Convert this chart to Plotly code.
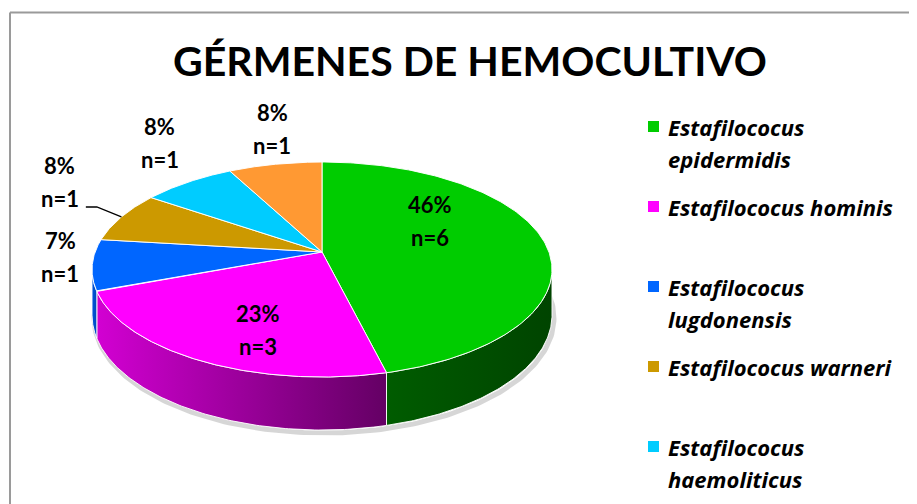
import math
import numpy as np
import plotly.graph_objects as go

# ---------------- data ----------------
categories = [
    "Estafilococus epidermidis",
    "Estafilococus hominis",
    "Estafilococus lugdonensis",
    "Estafilococus warneri",
    "Estafilococus haemoliticus",
    "Otro",
]
counts = [6, 3, 1, 1, 1, 1]
pct_labels = ["46%", "23%", "7%", "8%", "8%", "8%"]
legend_lines = [
    ["Estafilococus", "epidermidis"],
    ["Estafilococus hominis"],
    ["Estafilococus", "lugdonensis"],
    ["Estafilococus warneri"],
    ["Estafilococus", "haemoliticus"],
]
title_text = "GÉRMENES DE HEMOCULTIVO"

# ---------------- styling ----------------
top_colors = ["#00CC00", "#FF00FF", "#0066FF", "#CC9900", "#00CCFF", "#FF9933"]
side_colors = [("#005C00", "#004400"), ("#D200D2", "#640064"), ("#0055DD", "#0048BB"),
               ("#A07800", "#806000"), ("#00A0CC", "#0080A0"), ("#CC7020", "#A05010")]
# label placement: (radius factor, angle nudge in degrees)
label_place = [(0.583, -24.2), (0.711, -7.0), (1.145, 4.1), (1.498, 9.3), (1.52, 7.1), (1.465, 3.2)]

FONT = "Lato"
LEG_FONT = "Open Sans"
W, H = 917, 504
OFF = 8                          # page body margin
CX, CY = 322.0, 252.0            # projected pie centre (px)
RX, R_TOP, R_BOT = 230.0, 90.0, 125.0
K = (R_BOT - R_TOP) / (R_BOT + R_TOP)
B = R_TOP * (1 + K)
A = RX * math.sqrt(1 - K * K)
T = 44.4                          # thickness

def proj(phi_deg, r=1.0, drop=0.0):
    phi = np.radians(phi_deg)
    u = r * np.sin(phi)
    v = r * np.cos(phi)
    w = 1 + K * v
    return CX + A * u / w, CY - B * v / w + drop / w

total = sum(counts)
bounds = np.concatenate([[0], np.cumsum(counts)]) / total * 360.0

fig = go.Figure()

# shadow under pie
ph = np.linspace(70, 275, 200)
sx, sy = proj(ph, 1.0, T)
fig.add_trace(go.Scatter(x=sx + 2, y=sy + 3, mode="lines",
                         line=dict(color="rgba(0,0,0,0.16)", width=5),
                         hoverinfo="skip", showlegend=False))

# sides
vis_a = math.degrees(math.acos(-K))
vis_b = 360 - vis_a
for i in range(len(counts)):
    a, b = bounds[i], bounds[i + 1]
    lo, hi = max(a, vis_a), min(b, vis_b)
    if hi <= lo:
        continue
    ph = np.linspace(lo, hi, 120)
    tx, ty = proj(ph)
    bx, by = proj(ph[::-1], 1.0, T)
    xs = np.concatenate([tx, bx, tx[:1]])
    ys = np.concatenate([ty, by, ty[:1]])
    c0, c1 = side_colors[i]
    fig.add_trace(go.Scatter(
        x=xs, y=ys, mode="lines", fill="toself",
        fillgradient=dict(type="horizontal", colorscale=[[0, c0], [1, c1]]),
        line=dict(color="rgba(255,255,255,0.9)", width=1),
        hoverinfo="skip", showlegend=False))

# top faces
for i in range(len(counts)):
    a, b = bounds[i], bounds[i + 1]
    ph = np.linspace(a, b, 200)
    rx_, ry_ = proj(ph)
    xs = np.concatenate([[CX], rx_, [CX]])
    ys = np.concatenate([[CY], ry_, [CY]])
    fig.add_trace(go.Scatter(
        x=xs, y=ys, mode="lines", fill="toself", fillcolor=top_colors[i],
        line=dict(color="rgba(255,255,255,0.95)", width=1),
        name=categories[i], hoverinfo="name", showlegend=False))

annotations = []
# data labels
for i in range(len(counts)):
    mid = (bounds[i] + bounds[i + 1]) / 2
    r, nudge = label_place[i]
    lx, ly = proj(mid + nudge, r)
    lx, ly = float(lx), float(ly)
    for txt, dy in ((pct_labels[i], -17), ("n=%d" % counts[i], 16)):
        annotations.append(dict(x=lx, y=ly + dy, xref="x", yref="y", text=txt,
                                showarrow=False,
                                font=dict(family=FONT, size=22, color="black", weight="bold")))
    if i == 3:
        ex, ey = proj(mid, 1.0)
        fig.add_trace(go.Scatter(x=[lx + 26, lx + 37, float(ex)], y=[ly + 25, ly + 25, float(ey)],
                                 mode="lines", line=dict(color="black", width=1.3),
                                 hoverinfo="skip", showlegend=False))

# title
annotations.append(dict(x=470, y=60, xref="x", yref="y", text=title_text, showarrow=False,
                        font=dict(family=FONT, size=41, color="black", weight="bold")))

# manual legend
shapes = []
for i, lines in enumerate(legend_lines):
    yc = 127 + 80 * i
    shapes.append(dict(type="rect", xref="x", yref="y", x0=648, x1=659, y0=yc - 6, y1=yc + 5,
                       fillcolor=top_colors[i], line=dict(width=0)))
    for j, txt in enumerate(lines):
        annotations.append(dict(x=666, y=yc + 32 * j, xref="x", yref="y", text=txt,
                                showarrow=False, xanchor="left", yanchor="middle",
                                font=dict(family=LEG_FONT, size=22, color="black",
                                          weight="bold", style="italic")))

# frame
shapes.append(dict(type="line", xref="x", yref="y", x0=10, x1=W + 2, y0=12.5, y1=12.5,
                   line=dict(color="#9A9A9A", width=2)))
shapes.append(dict(type="line", xref="x", yref="y", x0=10, x1=10, y0=12.5, y1=H + 2,
                   line=dict(color="#9A9A9A", width=2)))

fig.update_layout(
    width=W - OFF, height=H - OFF, autosize=False,
    margin=dict(l=0, r=0, t=0, b=0, pad=0),
    paper_bgcolor="white", plot_bgcolor="white",
    xaxis=dict(range=[OFF, W], visible=False, fixedrange=True),
    yaxis=dict(range=[H, OFF], visible=False, fixedrange=True),
    annotations=annotations, shapes=shapes, showlegend=False,
)

fig.write_html("out.html")
